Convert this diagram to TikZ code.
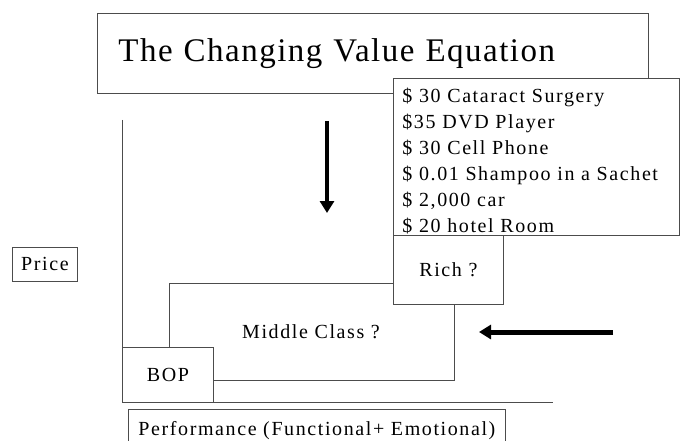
\documentclass[tikz,border=0pt]{standalone}
\usepackage{fontspec}
\setmainfont{Liberation Serif}
\newfontfamily\ttlfont{Liberation Serif}[LetterSpace=4.5]
\newfontfamily\lblfont{Liberation Serif}[LetterSpace=8]
\usetikzlibrary{arrows.meta}

\begin{document}
\begin{tikzpicture}[x=1pt,y=-1pt]
\tikzstyle{every node}+=[inner sep=0pt]
\tikzstyle{box}=[draw=black!70, line width=0.8pt, fill=white]
\tikzstyle{lbl}=[font=\lblfont\fontsize{20}{26}\selectfont]
\tikzstyle{axis}=[draw=black!70, line width=0.8pt]
\tikzstyle{bigarrow}=[line width=4pt, -{Triangle[width=14pt,length=12pt]}]
\clip (0,0) rectangle (682,441);
\fill [white] (0,0) rectangle (682,441);
\node [box, anchor=north west, minimum width=551, minimum height=80, inner xsep=21pt, text width=509pt, align=left, font=\ttlfont\fontsize{33}{40}\selectfont] (title) at (97,13) {The Changing Value Equation};
\node [box, lbl, anchor=north west, minimum width=286, minimum height=157, inner xsep=9pt, text width=268pt, align=left] (items) at (393,78) {\rule{0pt}{23pt}\$ 30 Cataract Surgery\\\$35 DVD Player\\\$ 30 Cell Phone\\\$ 0.01 Shampoo in a Sachet\\\$ 2,000 car\\\$ 20 hotel Room};
\node [box, lbl, anchor=north west, minimum width=110, minimum height=69] (rich) at (393,235) {Rich ?};
\node [box, lbl, anchor=north west, minimum width=91, minimum height=55] (bop) at (122,347) {BOP};
\node [box, lbl, anchor=north west, minimum width=65, minimum height=34] (price) at (12,247) {Price};
\node [box, lbl, anchor=north west, minimum width=377, minimum height=42] (perf) at (128,409) {Performance (Functional+ Emotional)};
\node [lbl] (middle) at (311,332) {Middle Class ?};
\coordinate (ytop) at (122,120);
\coordinate (xend) at (553,402);
\draw [axis] (ytop) |- (xend);
\draw [axis] ([yshift=-13.5pt]rich.west) -| ([xshift=1.5pt]bop.north);
\draw [axis] ([xshift=6pt]rich.south) |- ([yshift=-5.5pt]bop.east);
\coordinate (dtop) at (327,121);
\coordinate (dbot) at (327,213);
\coordinate (lstart) at (613,332);
\coordinate (lend) at (479,332);
\draw [bigarrow] (dtop) -- (dbot);
\draw [bigarrow, line width=5pt] (lstart) -- (lend);
\end{tikzpicture}
\end{document}
